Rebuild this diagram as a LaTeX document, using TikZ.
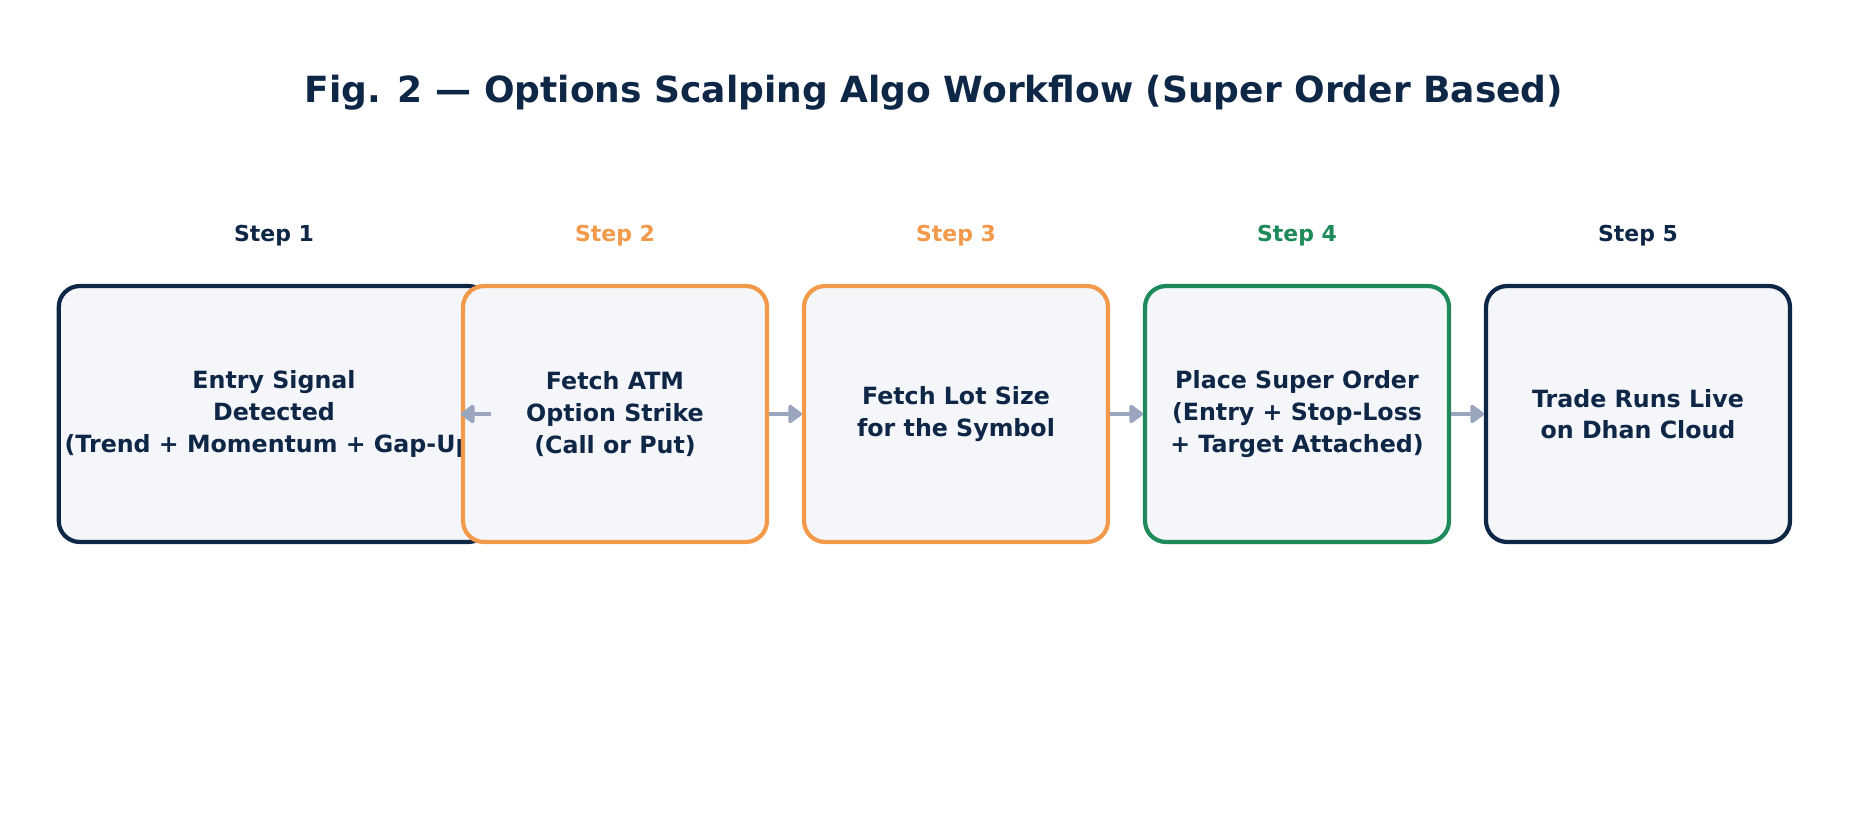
\documentclass[tikz,border=0pt]{standalone}
\usepackage{fontspec}
\setmainfont{DejaVu Sans}
\usetikzlibrary{arrows.meta}
\definecolor{navy}{HTML}{0F2747}
\definecolor{org}{HTML}{F2994A}
\definecolor{grn}{HTML}{1E8A5A}
\definecolor{boxfill}{HTML}{F4F6FA}
\definecolor{arr}{HTML}{9AA5BE}
\begin{document}
\begin{tikzpicture}[x=0.02cm,y=-0.02cm,
 box/.style={draw=#1,fill=boxfill,line width=2.4pt,rounded corners=0.42cm,minimum width=6.08cm,minimum height=5.12cm,align=center,font=\bfseries\fontsize{13.5}{18}\selectfont,text=navy},
 step/.style={font=\bfseries\fontsize{12.5}{15}\selectfont,text=#1},
 conn/.style={draw=arr,line width=2.2pt,-{Triangle[length=0.3cm,width=0.42cm,round]}}]
\useasboundingbox (0,0) rectangle (1869,828);
\node[font=\bfseries\fontsize{20.5}{24}\selectfont,text=navy] (title) at (934,93) {Fig. 2 — Options Scalping Algo Workflow (Super Order Based)};
\node[box=navy] (b1) at (274,414) {Entry Signal\\Detected\\(Trend + Momentum + Gap-Up)};
\node[box=org] (b2) at (615,414) {Fetch ATM\\Option Strike\\(Call or Put)};
\node[box=org] (b3) at (956,414) {Fetch Lot Size\\for the Symbol};
\node[box=grn] (b4) at (1297,414) {Place Super Order\\(Entry + Stop-Loss\\+ Target Attached)};
\node[box=navy] (b5) at (1638,414) {Trade Runs Live\\on Dhan Cloud};
\node[step=navy] (s1) at (274,236) {Step 1};
\node[step=org] (s2) at (615,236) {Step 2};
\node[step=org] (s3) at (956,236) {Step 3};
\node[step=grn] (s4) at (1297,236) {Step 4};
\node[step=navy] (s5) at (1638,236) {Step 5};
\draw[conn] (b1) -- (b2);
\draw[conn] (b2) -- (b3);
\draw[conn] (b3) -- (b4);
\draw[conn] (b4) -- (b5);
\end{tikzpicture}
\end{document}
